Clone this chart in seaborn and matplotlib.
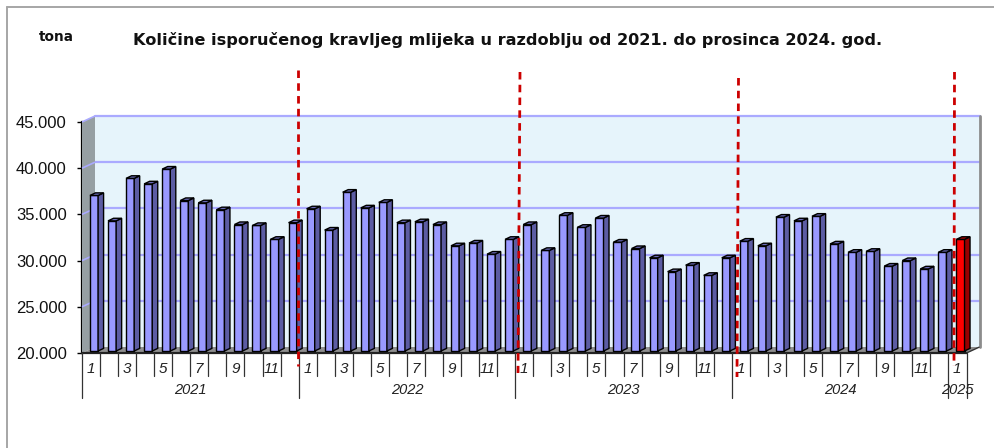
import numpy as np
import pandas as pd
import matplotlib
matplotlib.use("Agg")
import matplotlib.pyplot as plt
from matplotlib.patches import Polygon
from matplotlib.lines import Line2D
from matplotlib.transforms import ScaledTranslation
import seaborn as sns

years = ["2021", "2022", "2023", "2024", "2025"]
months_per_year = [12, 12, 12, 12, 1]
v2021 = [37050, 34300, 38900, 38300, 39900, 36500, 36250, 35500, 33900, 33800, 32300, 34100]
v2022 = [35600, 33300, 37400, 35700, 36300, 34100, 34200, 33900, 31600, 31900, 30700, 32300]
v2023 = [33900, 31100, 34900, 33600, 34600, 32000, 31300, 30300, 28800, 29500, 28400, 30300]
v2024 = [32100, 31600, 34700, 34300, 34800, 31800, 30900, 31000, 29400, 30000, 29100, 30900]
v2025 = [32300]
y_ticks = [20000, 25000, 30000, 35000, 40000, 45000]
y_labels = ["20.000", "25.000", "30.000", "35.000", "40.000", "45.000"]
title = "Količine isporučenog kravljeg mlijeka u razdoblju od 2021. do prosinca 2024. god."
unit = "tona"

values = v2021 + v2022 + v2023 + v2024 + v2025
labels = [f"{y}-{m+1}" for y, n in zip(years, months_per_year) for m in range(n)]
hl = ["latest" if i == len(values) - 1 else "past" for i in range(len(values))]
df = pd.DataFrame({"period": labels, "tona": values, "kind": hl})

W, H = 994, 448
DX, DY = 13, 6          # wall depth (px)
BX, BY = 5.5, 2.6       # bar depth (px)
SX, SY = 3.0, 2         # bars stand this far inside the floor (px)
L, R, T, B = 82, 966.5, 122, 353

sns.set_style("white")
plt.rcParams["font.family"] = ["Liberation Sans", "DejaVu Sans"]
fig = plt.figure(figsize=(W / 100, H / 100), dpi=100, facecolor="white")
ax = fig.add_axes([L / W, 1 - B / H, (R - L) / W, (B - T) / H], facecolor="none")

sns.barplot(data=df, x="period", y="tona", hue="kind", dodge=False, legend=False,
            palette={"past": "#9999FF", "latest": "#FF0000"}, width=0.45, saturation=1,
            edgecolor="black", linewidth=1.0, ax=ax, zorder=5)
ax.set_xlim(-0.5, len(values) - 0.5)
ax.set_ylim(20000, 45000)
ax.set_xlabel("")
ax.set_ylabel("")
ax.set_xticks([])
ax.set_yticks(y_ticks, y_labels, fontsize=12, color="#111111")
ax.tick_params(axis="y", length=3.6, width=1, color="black", pad=7.5, left=True)
for s in ["top", "right", "bottom"]:
    ax.spines[s].set_visible(False)
ax.spines["left"].set_color("black")
ax.spines["left"].set_linewidth(1.6)
ax.patch.set_visible(False)

to_px = ax.transData
def shifted(dx, dy):
    return to_px + ScaledTranslation(dx / 100, dy / 100, fig.dpi_scale_trans)

x0, x1 = -0.5, len(values) - 0.5
wall = shifted(DX, DY)
ax.add_patch(Polygon([(x0, 20000), (x1, 20000), (x1, 45000), (x0, 45000)], closed=True,
                     transform=wall, fc="#E6F4FB", ec="none", zorder=1, clip_on=False))
for t in y_ticks[1:]:
    ax.plot([x0, x1], [t, t], transform=wall, color="#AAAAFF", lw=1.6, zorder=2, clip_on=False)
ax.plot([x1, x1], [20000, 45000], transform=wall, color="#8C8C8C", lw=2, zorder=2, clip_on=False)

def pix(x, y, dx=0, dy=0):
    p = to_px.transform((x, y))
    return (p[0] + dx, p[1] + dy)

def poly(points, **kw):
    ax.add_patch(Polygon(points, closed=True, transform=None, clip_on=False, **kw))

# left wall and floor
poly([pix(x0, 20000), pix(x0, 45000), pix(x0, 45000, DX, DY), pix(x0, 20000, DX, DY)],
     fc="#969FA3", ec="none", zorder=3)
poly([pix(x0, 20000), pix(x1, 20000), pix(x1, 20000, DX, DY), pix(x0, 20000, DX, DY)],
     fc="#8F8F8F", ec="none", zorder=3)
for t in y_ticks[1:]:
    poly([pix(x0, t), pix(x0, t, DX, DY)], fc="none", ec="#AAAAFF", lw=1.2, zorder=3)
ax.plot([x0, x1], [20000, 20000], color="#222222", lw=1.6, zorder=4, clip_on=False)
poly([pix(x1, 20000), pix(x1, 20000, DX, DY)], fc="none", ec="#333333", lw=1, zorder=4)

# 3D sides and tops of the bars, taken from the bars seaborn drew
colors = {"past": ("#5C5CA3", "#6B6BB8"), "latest": ("#990000", "#BB0000")}
bars = [b for c in ax.containers for b in c.patches if b.get_height() > 0]
bars = sorted(bars, key=lambda b: b.get_x())
raise_by = SY / (B - T) * 25000
for b, k in zip(bars, hl):
    bl = b.get_x()
    br = bl + b.get_width()
    top = b.get_height()
    foot = 20000 + raise_by
    b.set_y(foot)
    b.set_height(top - foot)
    b.set_transform(shifted(SX, 0))
    side, cap = colors[k]
    poly([pix(br, foot, SX), pix(br, top, SX), pix(br, top, SX + BX, BY), pix(br, foot, SX + BX, BY)],
         fc=side, ec="black", lw=1, zorder=5)
    poly([pix(bl, top, SX), pix(br, top, SX), pix(br, top, SX + BX, BY), pix(bl, top, SX + BX, BY)],
         fc=cap, ec="black", lw=1, zorder=5)

# multi-level category axis, drawn below the floor
trans = ax.get_xaxis_transform()
def below(x, y0, y1, color="#333333"):
    ax.add_line(Line2D([x, x], [y0, y1], transform=trans, color=color, lw=0.9, clip_on=False, zorder=4))

f = lambda p: -p / (B - T)
pos = 0
for y, n in zip(years, months_per_year):
    below(pos - 0.5, 0, f(45))
    for m in range(n):
        if m > 0:
            below(pos + m - 0.5, 0, f(23))
        if m % 2 == 0:
            ax.text(pos + m - 0.01, f(15.8), str(m + 1), transform=trans, ha="center", va="center",
                    fontsize=11, style="italic", color="#222222", zorder=6)
    ax.text(pos + n / 2 - 0.5, f(37), y, transform=trans, ha="center", va="center",
            fontsize=10.5, style="italic", color="#222222", zorder=6)
    pos += n
below(pos - 0.5, 0, f(45))

# figure furniture
fig.add_artist(Line2D([7 / W, 7 / W], [0, 1 - 7.5 / H], color="#A6A6A6", lw=1.4))
fig.add_artist(Line2D([7 / W, 1], [1 - 7.5 / H, 1 - 7.5 / H], color="#A6A6A6", lw=1.4))
fig.text(38.5 / W, 1 - 37 / H, unit, fontsize=9.8, fontweight="bold", va="center", color="#111111",
         family="DejaVu Sans")
fig.text(508 / W, 1 - 40 / H, title, fontsize=11.6, fontweight="bold", ha="center", va="center",
         color="#111111", family="DejaVu Sans")

for xa, ya, xb, yb in [(298, 70, 298, 366), (520, 72, 518, 373), (738.5, 78, 737, 377), (954.5, 72, 954, 366)]:
    fig.add_artist(Line2D([xa / W, xb / W], [1 - ya / H, 1 - yb / H], color="#CC0000", lw=2,
                          linestyle=(0, (2.7, 1.9)), zorder=20))

fig.savefig("out.png", dpi=100)
